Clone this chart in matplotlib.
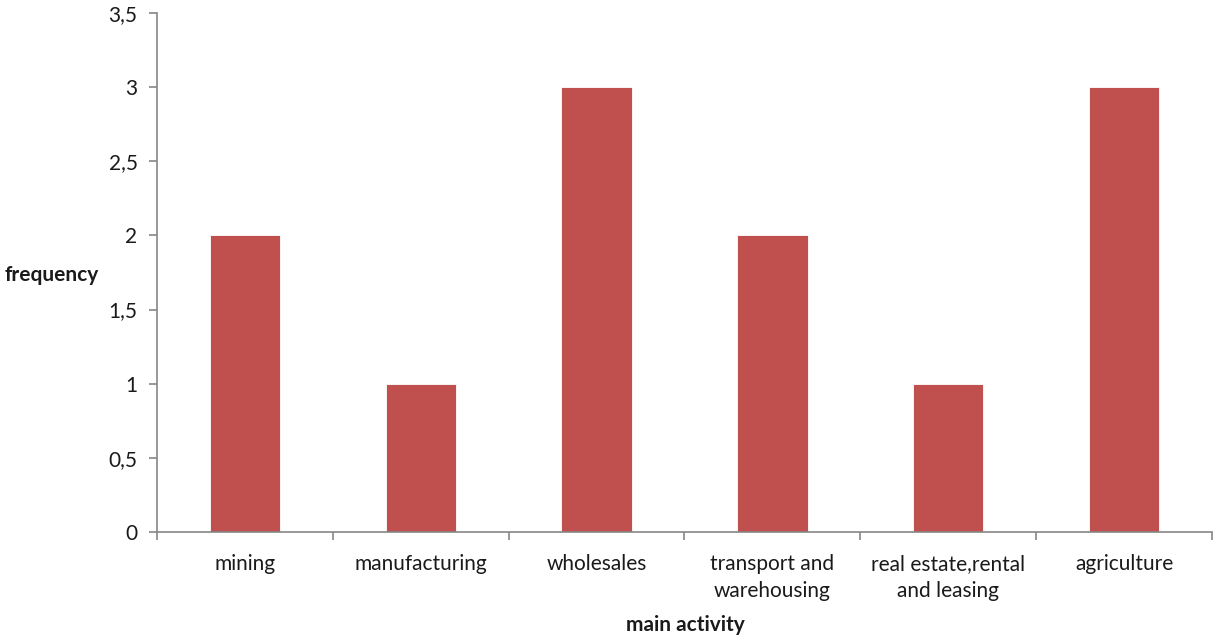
import matplotlib
matplotlib.use("Agg")
import matplotlib.pyplot as plt
from matplotlib.ticker import FuncFormatter, MultipleLocator, FixedLocator

activities = ["mining", "manufacturing", "wholesales", "transport and\nwarehousing",
              "real estate,rental\nand leasing", "agriculture"]
frequency = [2, 1, 3, 2, 1, 3]

BAR = "#C0504D"
AXIS = "#868686"
FS = 15

plt.rcParams["font.family"] = ["Lato", "DejaVu Sans"]

fig = plt.figure(figsize=(12.13, 6.38), dpi=100)
ax = fig.add_axes([157 / 1213, 106 / 638, 1055 / 1213, 519 / 638])

x = range(len(activities))
ax.bar(x, frequency, width=0.4, color=BAR, edgecolor="white", linewidth=0.6, zorder=2)

ax.set_xlim(-0.5, len(activities) - 0.5)
ax.set_ylim(0, 3.5)
ax.yaxis.set_major_locator(MultipleLocator(0.5))
ax.yaxis.set_major_formatter(FuncFormatter(lambda v, _: f"{v:g}".replace(".", ",")))

# category labels centred under bars, tick marks on the category boundaries
ax.set_xticks(list(x))
ax.set_xticklabels(activities, fontsize=FS, color="#1a1a1a", linespacing=1.45)
ax.tick_params(axis="x", length=0, pad=16)
ax.xaxis.set_minor_locator(FixedLocator([i - 0.5 for i in range(len(activities) + 1)]))
ax.tick_params(axis="x", which="minor", length=6, color=AXIS, width=1.2)
ax.tick_params(axis="y", length=6, color=AXIS, width=1.2, labelsize=FS,
               labelcolor="#1a1a1a", pad=8)

for side in ("top", "right"):
    ax.spines[side].set_visible(False)
for side in ("left", "bottom"):
    ax.spines[side].set_color(AXIS)
    ax.spines[side].set_linewidth(1.2)

fig.text(5 / 1213, 1 - 275 / 638, "frequency", fontsize=FS, fontweight="bold",
         va="center", ha="left", color="#1a1a1a")
fig.text(685 / 1213, 1 - 625 / 638, "main activity", fontsize=FS, fontweight="bold",
         va="center", ha="center", color="#1a1a1a")

fig.savefig("out.png", dpi=100)
